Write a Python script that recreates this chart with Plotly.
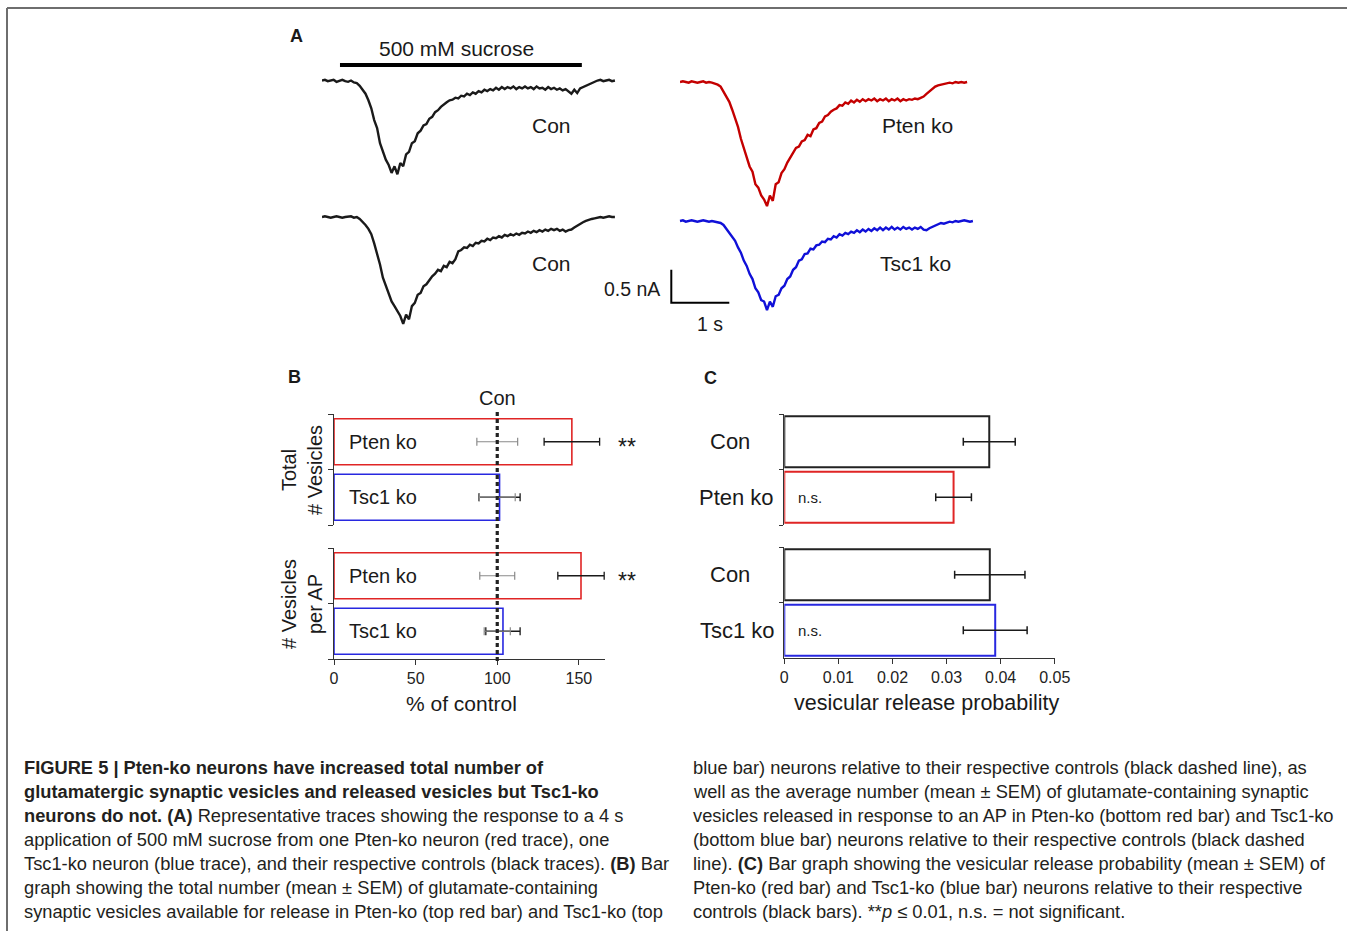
import plotly.graph_objects as go

W, H = 1347, 931
FONT = "Liberation Sans, Arial, Helvetica, sans-serif"
INK = "#1a1a1a"
RED_T, BLUE_T = "#c40000", "#1010d8"
RED_B, BLUE_B = "#e02525", "#2828e0"

# ---------------- Panel A: traces (sample step 0.05 s, current in nA vs baseline)
dt = 0.05
con_top = [0.00, 0.01, -0.01, 0.00, 0.01, -0.02, 0.00, 0.01, -0.01, -0.02, 0.00, -0.03,
           -0.04, -0.08, -0.14, -0.20, -0.30, -0.42, -0.60, -0.72, -0.95, -1.08, -1.20, -1.28,
           -1.40, -1.30, -1.42, -1.25, -1.30, -1.12, -1.08, -0.95, -0.92, -0.80, -0.76, -0.68,
           -0.66, -0.58, -0.55, -0.48, -0.45, -0.40, -0.36, -0.33, -0.30, -0.29, -0.26, -0.27,
           -0.23, -0.24, -0.20, -0.22, -0.18, -0.20, -0.16, -0.18, -0.14, -0.16, -0.13, -0.15,
           -0.11, -0.14, -0.10, -0.13, -0.10, -0.12, -0.09, -0.13, -0.10, -0.12, -0.09, -0.12,
           -0.10, -0.13, -0.09, -0.12, -0.11, -0.14, -0.10, -0.13, -0.11, -0.14, -0.12, -0.15,
           -0.13, -0.16, -0.20, -0.14, -0.19, -0.12, -0.10, -0.08, -0.05, -0.03, -0.01, 0.00,
           0.01, -0.01, 0.00, 0.01, -0.01, 0.00]
con_bottom = [0.00, 0.01, 0.00, -0.01, 0.00, 0.01, 0.00, -0.01, 0.00, 0.00, 0.01, -0.01, 0.00,
              -0.03, -0.07, -0.12, -0.18, -0.26, -0.40, -0.55, -0.72, -0.92, -1.05, -1.15, -1.28,
              -1.35, -1.42, -1.50, -1.62, -1.48, -1.55, -1.35, -1.30, -1.18, -1.15, -1.05, -1.02,
              -0.95, -0.90, -0.86, -0.80, -0.82, -0.74, -0.76, -0.68, -0.70, -0.64, -0.52, -0.50,
              -0.46, -0.47, -0.42, -0.44, -0.39, -0.40, -0.36, -0.37, -0.33, -0.35, -0.31, -0.32,
              -0.29, -0.31, -0.27, -0.29, -0.26, -0.28, -0.25, -0.27, -0.24, -0.25, -0.22, -0.24,
              -0.21, -0.23, -0.20, -0.22, -0.19, -0.21, -0.18, -0.20, -0.18, -0.21, -0.19, -0.22,
              -0.20, -0.19, -0.16, -0.13, -0.11, -0.08, -0.06, -0.04, -0.03, -0.02, -0.01, 0.00,
              -0.01, 0.00, 0.01, 0.00, 0.00]
pten_trace = [0.00, 0.01, 0.00, -0.01, 0.01, 0.00, -0.01, 0.00, 0.01, -0.01, 0.00, -0.01, -0.02, -0.04,
              -0.07, -0.14, -0.22, -0.30, -0.42, -0.55, -0.68, -0.86, -1.00, -1.12, -1.28, -1.36,
              -1.55, -1.60, -1.72, -1.78, -1.88, -1.72, -1.80, -1.55, -1.52, -1.38, -1.32, -1.22,
              -1.15, -1.08, -1.00, -0.98, -0.90, -0.88, -0.80, -0.82, -0.72, -0.70, -0.62, -0.60,
              -0.52, -0.50, -0.45, -0.42, -0.40, -0.35, -0.36, -0.31, -0.33, -0.28, -0.31, -0.27,
              -0.30, -0.26, -0.29, -0.26, -0.28, -0.25, -0.29, -0.26, -0.28, -0.25, -0.29, -0.26,
              -0.28, -0.25, -0.29, -0.26, -0.28, -0.26, -0.27, -0.25, -0.26, -0.24, -0.22, -0.18,
              -0.14, -0.10, -0.07, -0.05, -0.04, -0.03, -0.02, -0.01, -0.02, 0.00, -0.01, 0.00,
              -0.01, 0.00]
tsc1_trace = [0.00, 0.01, -0.01, 0.00, 0.01, 0.00, -0.01, 0.00, 0.01, 0.00, -0.01, 0.00, -0.01, -0.02, -0.03,
              -0.06, -0.12, -0.18, -0.24, -0.30, -0.40, -0.48, -0.60, -0.68, -0.80, -0.88, -1.02,
              -1.08, -1.20, -1.22, -1.35, -1.22, -1.30, -1.14, -1.12, -1.02, -0.98, -0.88, -0.84,
              -0.74, -0.70, -0.60, -0.58, -0.50, -0.49, -0.42, -0.43, -0.37, -0.36, -0.31, -0.32,
              -0.27, -0.28, -0.23, -0.25, -0.20, -0.22, -0.18, -0.20, -0.16, -0.18, -0.14, -0.17,
              -0.13, -0.16, -0.12, -0.15, -0.11, -0.14, -0.10, -0.14, -0.10, -0.13, -0.09, -0.13,
              -0.10, -0.13, -0.09, -0.12, -0.10, -0.13, -0.10, -0.12, -0.09, -0.13, -0.14, -0.11,
              -0.09, -0.06, -0.05, -0.03, -0.04, -0.02, -0.01, -0.02, 0.00, -0.01, 0.00, 0.01,
              0.00, -0.01, 0.00]
sucrose_on, sucrose_off = 0.31, 4.48       # s
scale_t, scale_i = 1.0, 0.5                 # 1 s, 0.5 nA

# ---------------- Panel B: % of control
b_labels = ["Pten ko", "Tsc1 ko"]
b_total_mean = [145.7, 101.4]
b_total_sem = [17.0, 12.6]
b_total_con_sem = [12.5, 11.0]
b_perap_mean = [151.3, 103.5]
b_perap_sem = [14.2, 10.5]
b_perap_con_sem = [10.7, 8.0]
b_control = 100
b_ticks = [0, 50, 100, 150]

# ---------------- Panel C: vesicular release probability
c_top_labels = ["Con", "Pten ko"]
c_top_mean = [0.0379, 0.0313]
c_top_sem = [0.0048, 0.0033]
c_bot_labels = ["Con", "Tsc1 ko"]
c_bot_mean = [0.0380, 0.0390]
c_bot_sem = [0.0065, 0.0059]
c_ticks = [0, 0.01, 0.02, 0.03, 0.04, 0.05]
c_ticktext = ["0", "0.01", "0.02", "0.03", "0.04", "0.05"]


def xd(p0, p1):
    return [p0 / W, p1 / W]


def yd(top, bot):
    return [1 - bot / H, 1 - top / H]


def px(p):
    return p / W


def py(p):
    return 1 - p / H


fig = go.Figure()

# --- traces
for arr, col, ax in [(con_top, INK, ""), (con_bottom, INK, "2"),
                     (pten_trace, RED_T, "3"), (tsc1_trace, BLUE_T, "4")]:
    fig.add_trace(go.Scatter(x=[i * dt for i in range(len(arr))], y=arr, mode="lines",
                             line=dict(color=col, width=2.4), xaxis="x" + ax, yaxis="y" + ax,
                             hoverinfo="skip", showlegend=False))

# --- panel B bars
for mean, sem, csem, ax in [(b_total_mean, b_total_sem, b_total_con_sem, "5"),
                            (b_perap_mean, b_perap_sem, b_perap_con_sem, "6")]:
    fig.add_trace(go.Bar(x=mean, y=b_labels, orientation="h", width=0.83,
                         marker=dict(color="rgba(255,255,255,0)", line=dict(color=[RED_B, BLUE_B], width=1.6)),
                         error_x=dict(type="data", array=sem, color=INK, thickness=1.3, width=4),
                         xaxis="x" + ax, yaxis="y" + ax, showlegend=False, hoverinfo="skip"))
    fig.add_trace(go.Scatter(x=[b_control] * len(b_labels), y=b_labels, mode="markers",
                             marker=dict(size=1, color="rgba(0,0,0,0)"),
                             error_x=dict(type="data", array=csem, color="#8a8a8a", thickness=1.2, width=4),
                             xaxis="x" + ax, yaxis="y" + ax, showlegend=False, hoverinfo="skip"))

# --- panel C bars
for labels, mean, sem, col, ax in [(c_top_labels, c_top_mean, c_top_sem, RED_B, "7"),
                                   (c_bot_labels, c_bot_mean, c_bot_sem, BLUE_B, "8")]:
    fig.add_trace(go.Bar(x=mean, y=labels, orientation="h", width=0.92,
                         marker=dict(color="rgba(255,255,255,0)", line=dict(color=["#222222", col], width=2)),
                         error_x=dict(type="data", array=sem, color=INK, thickness=1.5, width=4),
                         xaxis="x" + ax, yaxis="y" + ax, showlegend=False, hoverinfo="skip"))

hidden = dict(visible=False, fixedrange=True, automargin=False)
axl = dict(showline=True, linecolor="#333333", linewidth=1.3, ticks="outside", ticklen=5,
           tickwidth=1.3, tickcolor="#333333", showgrid=False, zeroline=False, fixedrange=True,
           automargin=False)
cat = lambda labels: dict(type="category", categoryorder="array", categoryarray=labels[::-1],
                          range=[-0.5, len(labels) - 0.5], tickson="boundaries")

layout = dict(
    width=W, height=H, autosize=False,
    margin=dict(l=0, r=0, t=0, b=0, pad=0, autoexpand=False),
    paper_bgcolor="white", plot_bgcolor="rgba(0,0,0,0)",
    font=dict(family=FONT, color=INK),
    showlegend=False,
    xaxis=dict(domain=xd(322, 617.8), range=[0, 5.1], **hidden),
    yaxis=dict(domain=yd(59.4, 179.5), range=[-1.5, 0.32], **hidden),
    xaxis2=dict(domain=xd(322, 617.8), range=[0, 5.1], **hidden),
    yaxis2=dict(domain=yd(210.4, 332.5), range=[-1.75, 0.1], **hidden),
    xaxis3=dict(domain=xd(680, 975.8), range=[0, 5.1], **hidden),
    yaxis3=dict(domain=yd(75.4, 214), range=[-2.0, 0.1], **hidden),
    xaxis4=dict(domain=xd(665.5, 975.8), range=[-0.25, 5.1], **hidden),
    yaxis4=dict(domain=yd(214.4, 320), range=[-1.5, 0.1], **hidden),
    xaxis5=dict(domain=xd(334, 605), range=[0, 166], anchor="y5", **hidden),
    yaxis5=dict(domain=yd(414, 525), anchor="x5", showticklabels=False, **cat(b_labels), **axl),
    xaxis6=dict(domain=xd(334, 605), range=[0, 166], anchor="y6", tickvals=b_ticks,
                tickfont=dict(size=16, color="#222"), **axl),
    yaxis6=dict(domain=yd(548, 659), anchor="x6", showticklabels=False, **cat(b_labels), **axl),
    xaxis7=dict(domain=xd(784.3, 1054.7), range=[0, 0.05], anchor="y7", **hidden),
    yaxis7=dict(domain=yd(414, 525), anchor="x7", showticklabels=False,
                **cat(c_top_labels), **dict(axl, ticklen=4)),
    xaxis8=dict(domain=xd(784.3, 1054.7), range=[0, 0.05], anchor="y8", tickvals=c_ticks,
                ticktext=c_ticktext, tickfont=dict(size=16, color="#222"), **axl),
    yaxis8=dict(domain=yd(547, 658), anchor="x8", showticklabels=False,
                **cat(c_bot_labels), **dict(axl, ticklen=4)),
)
fig.update_layout(**layout)

shapes = [
    # outer frame
    dict(type="line", xref="paper", yref="paper", x0=px(7), x1=1, y0=py(8), y1=py(8),
         line=dict(color="#6e6e6e", width=2)),
    dict(type="line", xref="paper", yref="paper", x0=px(7), x1=px(7), y0=py(8), y1=0,
         line=dict(color="#6e6e6e", width=2)),
    # sucrose application bar
    dict(type="line", xref="x", yref="y", x0=sucrose_on, x1=sucrose_off, y0=0.235, y1=0.235,
         line=dict(color="black", width=4)),
    # scale bar
    dict(type="path", xref="x4", yref="y4",
         path=f"M {-0.15},{-1.24 + scale_i} L {-0.15},{-1.24} L {-0.15 + scale_t},{-1.24}",
         line=dict(color="black", width=2)),
    # control dashed line (panel B)
    dict(type="line", xref="x6", yref="paper", x0=b_control, x1=b_control, y0=py(661), y1=py(410),
         line=dict(color="#222", width=3.2, dash="4px,3px")),
]
fig.update_layout(shapes=shapes)

ann = []


def txt(x, y, s, size, xanchor="center", yanchor="middle", xref="paper", yref="paper", angle=0, color=INK, **kw):
    ann.append(dict(x=x, y=y, text=s, xref=xref, yref=yref, xanchor=xanchor, yanchor=yanchor,
                    showarrow=False, textangle=angle, font=dict(size=size, color=color, family=FONT), **kw))


# panel letters
txt(px(296), py(36), "<b>A</b>", 18)
txt(px(294), py(377), "<b>B</b>", 18)
txt(px(711), py(378), "<b>C</b>", 18)

# panel A labels
txt(px(456), py(49), "500 mM sucrose", 21)
txt(px(551), py(125), "Con", 21)
txt(px(551), py(263), "Con", 21)
txt(px(917), py(125), "Pten ko", 21)
txt(px(916), py(263), "Tsc1 ko", 21)
txt(px(662), py(289), "0.5 nA", 19.5, xanchor="right")
txt(px(710), py(324), "1 s", 19.5)

# panel B labels
txt(b_control, py(398), "Con", 20, xref="x6")
order = b_labels[::-1]
for ax in ["5", "6"]:
    for lab in b_labels:
        txt(0, order.index(lab), lab, 20, xanchor="left", xref="x" + ax, yref="y" + ax, xshift=13)
txt(px(627), py(447), "**", 23)
txt(px(627), py(581), "**", 23)
txt(px(302), py(470), "Total<br># Vesicles", 20, angle=-90)
txt(px(302), py(604), "# Vesicles<br>per AP", 20, angle=-90)
txt(px(461), py(703), "% of control", 21)

# panel C labels
for labels, ax, centers in [(c_top_labels, "7", [729.5, 736]), (c_bot_labels, "8", [729.5, 737.5])]:
    corder = labels[::-1]
    for lab, cx in zip(labels, centers):
        txt(px(cx), corder.index(lab), lab, 22, yref="y" + ax)
txt(0, 0, "n.s.", 15, xanchor="left", xref="x7", yref="y7", xshift=12)
txt(0, 0, "n.s.", 15, xanchor="left", xref="x8", yref="y8", xshift=12)
txt(px(927), py(703), "vesicular release probability", 21.5)

# caption
left = [
    "<b>FIGURE 5 | Pten-ko neurons have increased total number of</b>",
    "<b>glutamatergic synaptic vesicles and released vesicles but Tsc1-ko</b>",
    "<b>neurons do not. (A)</b> Representative traces showing the response to a 4 s",
    "application of 500 mM sucrose from one Pten-ko neuron (red trace), one",
    "Tsc1-ko neuron (blue trace), and their respective controls (black traces). <b>(B)</b> Bar",
    "graph showing the total number (mean ± SEM) of glutamate-containing",
    "synaptic vesicles available for release in Pten-ko (top red bar) and Tsc1-ko (top",
]
right = [
    "blue bar) neurons relative to their respective controls (black dashed line), as",
    "well as the average number (mean ± SEM) of glutamate-containing synaptic",
    "vesicles released in response to an AP in Pten-ko (bottom red bar) and Tsc1-ko",
    "(bottom blue bar) neurons relative to their respective controls (black dashed",
    "line). <b>(C)</b> Bar graph showing the vesicular release probability (mean ± SEM) of",
    "Pten-ko (red bar) and Tsc1-ko (blue bar) neurons relative to their respective",
    "controls (black bars). **<i>p</i> ≤ 0.01, n.s. = not significant.",
]
for i, line in enumerate(left):
    txt(px(21.5), py(767 + 24 * i), line, 18.3, xanchor="left", color="#231f20")
for i, line in enumerate(right):
    txt(px(690.5), py(767 + 24 * i), line, 18.3, xanchor="left", color="#231f20")

fig.update_layout(annotations=ann)

fig.write_html("out.html", config={"displayModeBar": False},
               post_script="document.body.style.margin='0';document.body.style.padding='0';"
                           "document.documentElement.style.overflow='hidden';")
